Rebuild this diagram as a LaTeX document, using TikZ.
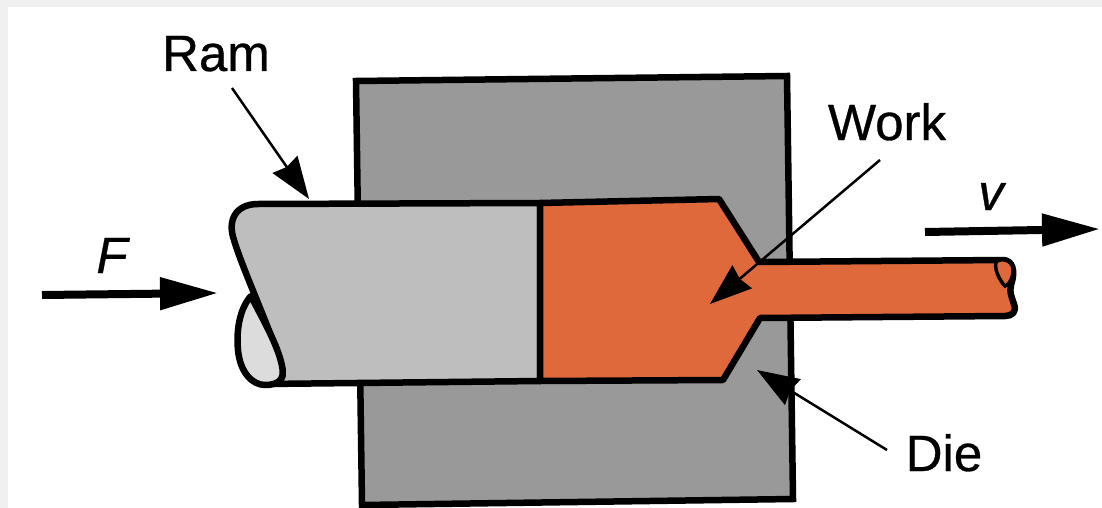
\documentclass[tikz,border=0pt]{standalone}
\usepackage{fontspec}
\setmainfont[ItalicFeatures={FakeBold=0.6},UprightFeatures={FakeBold=0.6}]{Liberation Sans}
\usetikzlibrary{arrows.meta}
\definecolor{pagegrey}{HTML}{F0F0F0}
\definecolor{diegrey}{HTML}{999999}
\definecolor{ramgrey}{HTML}{BEBEBE}
\definecolor{capgrey}{HTML}{DCDCDC}
\definecolor{workorange}{HTML}{E0693B}
\tikzset{
  outline/.style={draw=black,line width=6.5pt,line join=round},
  sharp/.style={draw=black,line width=6.5pt,line join=miter},
  thinarrow/.style={draw=black,line width=2.5pt,-{Stealth[length=42pt,width=30pt,inset=3pt]}},
  forcearrow/.style={draw=black,line width=8pt,-{Triangle[length=58pt,width=31pt]}},
  lab/.style={font=\fontsize{51pt}{51pt}\selectfont,inner sep=0pt,anchor=base},
  ilab/.style={font=\fontsize{51pt}{51pt}\selectfont\itshape,inner sep=0pt,anchor=base}
}
\begin{document}
\begin{tikzpicture}[x=1pt,y=-1pt]
\useasboundingbox (0,0) rectangle (1102,508);
\fill[pagegrey] (0,0) rectangle (1102,508);
\fill[white] (8,7) rectangle (1102,508);
% die
\path[sharp,fill=diegrey] (356,81) -- (787,76) -- (793,499) -- (362,505) -- cycle;
% ram
\path[outline,fill=ramgrey] (540,203) -- (258,204)
  .. controls (236,204) and (227,220) .. (234,240)
  .. controls (242,268) and (275,340) .. (282,368)
  .. controls (285,378) and (280,384) .. (265,384)
  -- (540,381) -- cycle;
\path[outline,fill=capgrey] (251,296)
  .. controls (240,308) and (236,330) .. (238,350)
  .. controls (240,372) and (252,385) .. (265,385)
  .. controls (280,385) and (285,378) .. (282,366)
  .. controls (278,345) and (262,318) .. (251,296) -- cycle;
% work
\path[outline,fill=workorange] (540,203) -- (719,199) -- (759,262) -- (1003,260)
  .. controls (1012,260) and (1016,270) .. (1011,285)
  .. controls (1009,292) and (1012,298) .. (1014,304)
  .. controls (1017,312) and (1012,316) .. (1005,316)
  -- (760,318) -- (723,380) -- (540,381) -- cycle;
\path[draw=black,line width=3.5pt,fill=workorange] (996,262)
  .. controls (1000,258) and (1013,259) .. (1013,270)
  .. controls (1013,279) and (1008,286) .. (1005,286)
  .. controls (1000,281) and (994,270) .. (996,262) -- cycle;
% labels
\node[lab] (ram) at (216,71) {Ram};
\node[lab] (work) at (887,140) {Work};
\node[lab] (die) at (944,471) {Die};
\node[ilab] (fl) at (112,273) {F};
\node[ilab] (vl) at (991,210) {v};
% connectors
\coordinate (ramS) at (232,88);
\coordinate (ramT) at (309,199);
\coordinate (workS) at (880,160);
\coordinate (workT) at (710,304);
\coordinate (dieS) at (887,450);
\coordinate (dieT) at (757,370);
\coordinate (fS) at (42,295);
\coordinate (fT) at (218,293);
\coordinate (vS) at (925,232);
\coordinate (vT) at (1100,229);
\draw[thinarrow] (ramS) -- (ramT);
\draw[thinarrow] (workS) -- (workT);
\draw[thinarrow] (dieS) -- (dieT);
\draw[forcearrow] (fS) -- (fT);
\draw[forcearrow] (vS) -- (vT);
\end{tikzpicture}
\end{document}
